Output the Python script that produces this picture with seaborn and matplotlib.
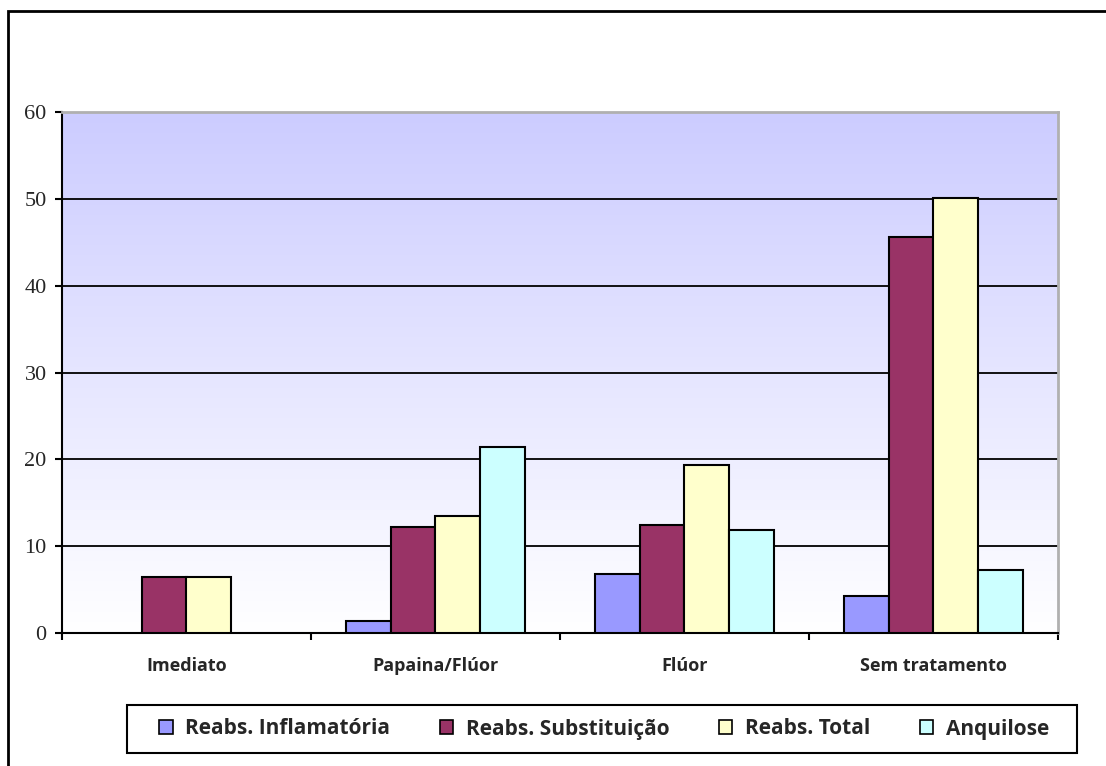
import numpy as np
import pandas as pd
import matplotlib
matplotlib.use('Agg')
import matplotlib.pyplot as plt
import seaborn as sns
from matplotlib.patches import Rectangle, Patch

# Data
groups = ['Imediato', 'Papaina/Flúor', 'Flúor', 'Sem tratamento']
series = ['Reabs. Inflamatória', 'Reabs. Substituição', 'Reabs. Total', 'Anquilose']
inflamatoria = [np.nan, 1.4, 6.8, 4.3]
substituicao = [6.4, 12.2, 12.4, 45.6]
total = [6.4, 13.5, 19.3, 50.1]
anquilose = [np.nan, 21.4, 11.9, 7.3]
colors = ['#9999FF', '#993366', '#FFFFCC', '#CCFFFF']
y_ticks = [0, 10, 20, 30, 40, 50, 60]

df = pd.DataFrame({'Grupo': groups,
                   series[0]: inflamatoria,
                   series[1]: substituicao,
                   series[2]: total,
                   series[3]: anquilose})
long_df = df.melt(id_vars='Grupo', var_name='Serie', value_name='Valor')

sns.set_style('white')
plt.rcParams['font.family'] = ['DejaVu Sans']

fig = plt.figure(figsize=(11.06, 7.66), dpi=100)
ax = fig.add_axes([62 / 1106, 1 - 633 / 766, 996 / 1106, 521 / 766])

# Gradient background (lavender at top to white at bottom)
grad = np.linspace(0, 1, 256).reshape(-1, 1)
top_c = np.array([0.8, 0.8, 1.0])
bot_c = np.array([1.0, 1.0, 1.0])
img = bot_c + (top_c - bot_c) * grad
ax.imshow(img[:, None, :].repeat(2, axis=1), extent=[-0.5, 3.5, 0, 60],
          origin='lower', aspect='auto', zorder=0)

sns.barplot(data=long_df, x='Grupo', y='Valor', hue='Serie', hue_order=series,
            order=groups, palette=colors, width=0.72, edgecolor='black',
            linewidth=1.5, saturation=1, ax=ax, legend=False, zorder=3)

ax.set_xlim(-0.5, 3.5)
ax.set_ylim(0, 60)
ax.set_yticks(y_ticks)
for y in y_ticks[1:]:
    ax.axhline(y, color='black', linewidth=1.3, zorder=1)

ax.set_xlabel('')
ax.set_ylabel('')

# boundaries get tick marks, centers get labels
ax.set_xticks([-0.5, 0.5, 1.5, 2.5, 3.5])
ax.set_xticklabels([])
ax.set_xticks(range(len(groups)), minor=True)
ax.set_xticklabels(groups, minor=True, fontweight='bold', fontsize=13,
                   family='Open Sans')
ax.tick_params(axis='x', which='major', direction='out', length=5, width=1.5,
               color='black', bottom=True)
ax.tick_params(axis='x', which='minor', length=0, pad=17)
ax.tick_params(axis='y', direction='out', length=5, width=1.5, color='black',
               left=True, pad=6, labelsize=16)
for lab in ax.get_yticklabels():
    lab.set_family('Liberation Serif')

ax.spines['left'].set_color('black')
ax.spines['left'].set_linewidth(1.5)
ax.spines['bottom'].set_color('black')
ax.spines['bottom'].set_linewidth(1.5)
ax.spines['top'].set_color('#b0b0b0')
ax.spines['top'].set_linewidth(2)
ax.spines['right'].set_color('#b0b0b0')
ax.spines['right'].set_linewidth(2)

# Legend (entries without frame, box drawn separately for wider side padding)
handles = [Patch(facecolor=c, edgecolor='black', linewidth=1.2) for c in colors]
leg = fig.legend(handles, series, ncol=4, loc='center',
                 bbox_to_anchor=(604 / 1106, 1 - 729 / 766),
                 frameon=False,
                 handlelength=0.65, handleheight=0.65, handletextpad=0.6,
                 columnspacing=2.38, borderpad=0, borderaxespad=0,
                 prop={'family': 'Open Sans', 'weight': 'bold', 'size': 15})
fig.patches.append(Rectangle((127 / 1106, 1 - 753 / 766), 950 / 1106, 48 / 766,
                             transform=fig.transFigure, fill=False,
                             edgecolor='black', linewidth=1.5))

# Outer chart border
fig.patches.append(Rectangle((8 / 1106, -0.1), 1.2, 1 - 11 / 766 + 0.1,
                             transform=fig.transFigure, fill=False,
                             edgecolor='black', linewidth=2))

fig.savefig('out.png', dpi=100)
